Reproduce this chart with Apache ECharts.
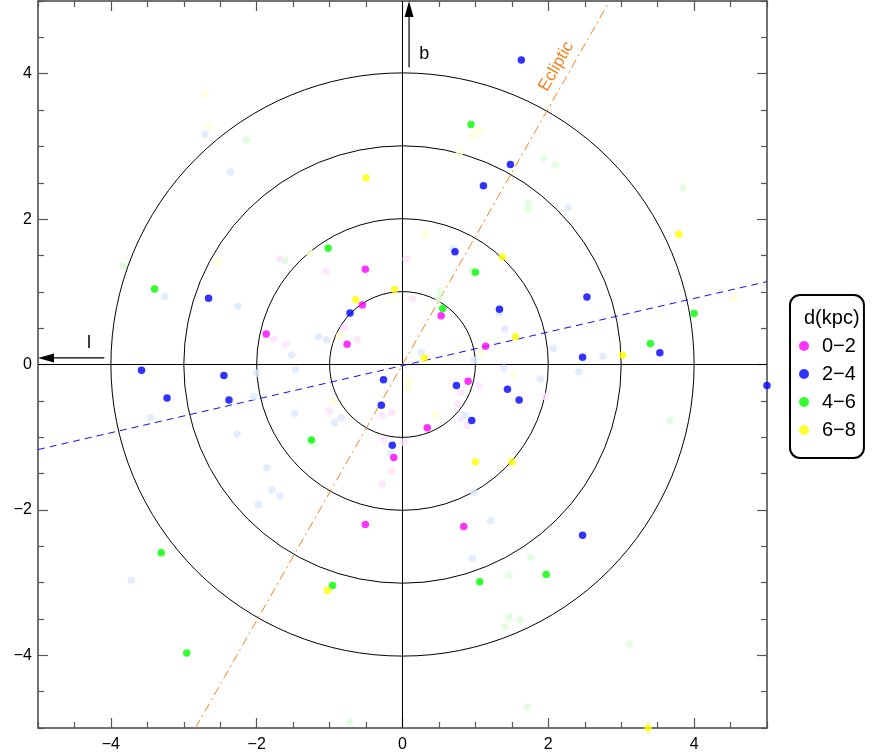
<!DOCTYPE html>
<html>
<head>
<meta charset="utf-8">
<script src="https://cdn.jsdelivr.net/npm/echarts@6/dist/echarts.min.js"></script>
<style>
html,body{margin:0;padding:0;background:#fff;}
#chart{width:873px;height:755px;}
</style>
</head>
<body>
<div id="chart"></div>
<script>
// ---- data ----
const seriesNames = ['0\u22122', '2\u22124', '4\u22126', '6\u22128'];
const d02 = [[-0.51,1.31],[-0.55,0.82],[-1.87,0.42],[-0.76,0.28],[0.53,0.67],[1.14,0.25],[0.90,-0.23],[0.34,-0.87],[-0.12,-1.28],[-0.51,-2.20],[0.84,-2.23]];
const d24 = [[1.63,4.19],[1.48,2.75],[1.11,2.46],[-2.66,0.91],[-0.72,0.71],[0.72,1.55],[2.53,0.93],[1.33,0.76],[2.47,0.10],[3.53,0.16],[-3.58,-0.08],[-2.45,-0.15],[-3.23,-0.46],[-2.38,-0.49],[-0.26,-0.21],[-0.29,-0.56],[-0.14,-1.11],[0.74,-0.29],[1.44,-0.34],[1.60,-0.49],[0.95,-0.77],[5.0,-0.29],[2.47,-2.35]];
const d46 = [[0.94,3.30],[-3.40,1.04],[-1.02,1.60],[1.00,1.27],[0.55,0.77],[3.40,0.29],[4.00,0.70],[-1.25,-1.04],[-3.31,-2.59],[-0.96,-3.04],[-2.96,-3.97],[1.97,-2.89],[1.06,-2.99]];
const d68 = [[-0.50,2.57],[-0.11,1.03],[-0.64,0.89],[1.37,1.48],[3.79,1.79],[1.55,0.38],[0.30,0.09],[3.02,0.13],[1.00,-1.34],[1.50,-1.34],[-1.03,-3.11],[3.37,-5.0]];
const f02 = [[-1.68,1.45],[-1.05,1.28],[-0.80,0.51],[-1.76,0.35],[-1.60,0.28],[-0.62,0.34],[0.05,1.45],[0.14,0.90],[-1.00,-0.64],[-0.28,-0.70],[-0.15,-0.66],[-0.25,-1.04],[-0.15,-1.47],[-0.28,-1.64],[1.05,-0.30],[0.80,-0.38],[1.96,-0.44],[0.76,-0.54],[0.80,-0.74],[0.89,-0.84],[0.02,-1.07]];
const f24 = [[-2.71,3.17],[-2.36,2.65],[-3.26,0.93],[-2.26,0.80],[-1.52,0.13],[-1.15,0.38],[-1.04,0.34],[2.27,2.16],[0.70,1.59],[1.33,0.71],[1.40,0.49],[2.07,0.22],[0.26,0.16],[0.98,0.06],[2.75,0.11],[-2.00,-0.12],[-1.47,-0.07],[-2.04,-0.44],[-3.46,-0.73],[-1.48,-0.67],[-2.27,-0.96],[-0.84,-0.73],[-0.93,-0.80],[-0.15,-1.23],[-1.86,-1.42],[-1.79,-1.73],[-1.68,-1.81],[-1.98,-1.93],[1.39,-0.05],[2.42,-0.10],[1.89,-0.20],[0.86,-0.70],[0.98,-1.76],[1.21,-2.15],[-3.72,-2.97],[0.96,-2.67]];
const f46 = [[-2.14,3.09],[1.94,2.84],[2.10,2.75],[-3.83,1.36],[-1.61,1.43],[1.73,2.22],[1.72,2.14],[3.85,2.43],[0.95,1.30],[0.51,1.00],[0.50,0.90],[-1.22,-1.08],[3.67,-0.77],[-0.73,-4.92],[1.76,-2.65],[1.46,-2.89],[1.46,-3.48],[1.61,-3.51],[1.40,-3.61],[3.11,-3.84],[1.71,-4.71],[1.0,5.04]];
const f68 = [[-2.71,3.72],[-2.65,3.27],[0.97,3.15],[1.05,3.22],[0.78,2.91],[-2.53,1.40],[-1.27,1.53],[-0.86,0.40],[0.31,1.79],[1.08,0.17],[4.55,0.91],[-0.94,-0.50],[1.52,-0.14],[0.09,-0.22],[0.08,-0.33],[0.45,-0.69]];

const ringRadii = [1, 2, 3, 4];
const eclipticLine = [[-2.84,-5],[2.84,5]];
const planeLine = [[-5,-1.17],[5,1.14]];
const hLine = [[-5,0],[5,0]];
const vLine = [[0,-5],[0,5]];
const arrows = [[0.09,4.09,0.09,5.0],[-4.09,0.09,-5.0,0.09]];
const labelTexts = ['b','l'];
const labelX = [0.30,-4.30];
const labelY = [4.27,0.30];
const eclipticText = 'Ecliptic';
const eclipticPos = [2.11, 4.10];

const majorTicks = [-4,-2,0,2,4];
const minorTicks = [];
for (let v = -5; v <= 5.0001; v += 0.5) { if (Math.abs(v % 2) > 1e-6) minorTicks.push(+v.toFixed(1)); }

const colors = ['#ff00ff','#0000ff','#00ff00','#ffff00'];
const fadedColors = ['#fde2fd','#dbeafe','#dcfcdc','#ffffd4'];
const FONT = "'Liberation Sans', Arial, sans-serif";

function mkAxis(kind, position, ticks, len, showLabel, showLine) {
  return {
    type: 'value', min: -5, max: 5, position: position,
    axisLine: { show: showLine, onZero: false, lineStyle: { color: '#444', width: 1.5 } },
    axisTick: { show: true, inside: true, length: len, customValues: ticks, lineStyle: { color: '#555', width: 1.2 } },
    axisLabel: { show: showLabel, customValues: majorTicks, fontFamily: FONT, fontSize: 16, color: '#000',
      margin: kind === 'x' ? 9 : 6,
      formatter: v => (v < 0 ? '\u2212' + Math.abs(v) : String(v)) },
    splitLine: { show: false }
  };
}

const chart = echarts.init(document.getElementById('chart'));

function lineSeries(data, color, type, width) {
  return { type: 'line', data: data, symbol: 'none', silent: true, animation: false,
    lineStyle: { color: color, type: type, width: width }, z: 1 };
}

const series = [];
series.push({
  type: 'custom', silent: true, animation: false, z: 1,
  data: ringRadii.map(r => [r]),
  renderItem: function (params, api) {
    const c = api.coord([0, 0]);
    const s = api.size([api.value(0), api.value(0)]);
    return { type: 'circle', shape: { cx: c[0], cy: c[1], r: s[0] },
      style: { fill: 'none', stroke: '#000', lineWidth: 1 } };
  }
});
series.push(lineSeries(hLine, '#000', 'solid', 1));
series.push(lineSeries(vLine, '#000', 'solid', 1));
series.push(lineSeries(eclipticLine, '#f5821f', [9,4,2,4], 1));
series.push(lineSeries(planeLine, '#1010ee', [7,5], 1));
series.push({
  type: 'custom', silent: true, animation: false, clip: false, z: 3,
  data: arrows,
  renderItem: function (params, api) {
    const p1 = api.coord([api.value(0), api.value(1)]);
    const p2 = api.coord([api.value(2), api.value(3)]);
    const dx = p2[0]-p1[0], dy = p2[1]-p1[1];
    const L = Math.sqrt(dx*dx+dy*dy), ux = dx/L, uy = dy/L;
    const hl = 16, hw = 4.5;
    const bx = p2[0]-ux*hl, by = p2[1]-uy*hl;
    return { type: 'group', children: [
      { type: 'line', shape: { x1: p1[0], y1: p1[1], x2: bx, y2: by }, style: { stroke: '#000', lineWidth: 1.2 } },
      { type: 'polygon', shape: { points: [[p2[0],p2[1]],[bx-uy*hw, by+ux*hw],[bx+uy*hw, by-ux*hw]] }, style: { fill: '#000' } }
    ]};
  }
});
series.push({
  type: 'custom', silent: true, animation: false, clip: false, z: 3,
  data: labelX.map((x, i) => [x, labelY[i], i]),
  renderItem: function (params, api) {
    const p = api.coord([api.value(0), api.value(1)]);
    return { type: 'text', x: p[0], y: p[1], style: { text: labelTexts[api.value(2)], fontFamily: FONT, fontSize: 18,
      fill: '#000', align: 'center', verticalAlign: 'middle' } };
  }
});
series.push({
  type: 'custom', silent: true, animation: false, clip: false, z: 3,
  data: [eclipticPos],
  renderItem: function (params, api) {
    const p = api.coord([api.value(0), api.value(1)]);
    return { type: 'text', x: p[0], y: p[1], rotation: 60.4 * Math.PI / 180,
      style: { text: eclipticText, fontFamily: FONT, fontSize: 17, fill: '#f5821f', align: 'center', verticalAlign: 'middle' } };
  }
});
[f02, f24, f46, f68].forEach((d, i) => {
  series.push({ type: 'scatter', name: 'faded' + i, data: d, symbolSize: 7.5, silent: true, animation: false,
    itemStyle: { color: fadedColors[i] }, z: 4 });
});
[d02, d24, d46, d68].forEach((d, i) => {
  series.push({ type: 'scatter', name: seriesNames[i], data: d, symbolSize: 7.5, animation: false,
    itemStyle: { color: colors[i] }, z: 5 });
});

chart.setOption({
  backgroundColor: '#fff',
  animation: false,
  grid: { left: 38, top: 1, width: 729, height: 727, containLabel: false },
  xAxis: [
    mkAxis('x', 'bottom', majorTicks, 10, true, true),
    mkAxis('x', 'bottom', minorTicks, 6, false, false),
    mkAxis('x', 'top', majorTicks, 10, false, true),
    mkAxis('x', 'top', minorTicks, 6, false, false)
  ],
  yAxis: [
    mkAxis('y', 'left', majorTicks, 10, true, true),
    mkAxis('y', 'left', minorTicks, 6, false, false),
    mkAxis('y', 'right', majorTicks, 10, false, true),
    mkAxis('y', 'right', minorTicks, 6, false, false)
  ],
  legend: {
    data: seriesNames, orient: 'vertical', left: 790, top: 295,
    icon: 'circle', itemWidth: 26, itemHeight: 10, itemGap: 8, symbolKeepAspect: true,
    padding: [41, 8, 18, 9],
    borderColor: '#000', borderWidth: 2, borderRadius: 10,
    textStyle: { fontFamily: FONT, fontSize: 20, color: '#000', lineHeight: 20 },
    selectedMode: false
  },
  graphic: [{
    type: 'text', left: 804, top: 308,
    style: { text: 'd(kpc)', fontFamily: FONT, fontSize: 20, fill: '#000' }
  }],
  series: series
});
</script>
</body>
</html>
